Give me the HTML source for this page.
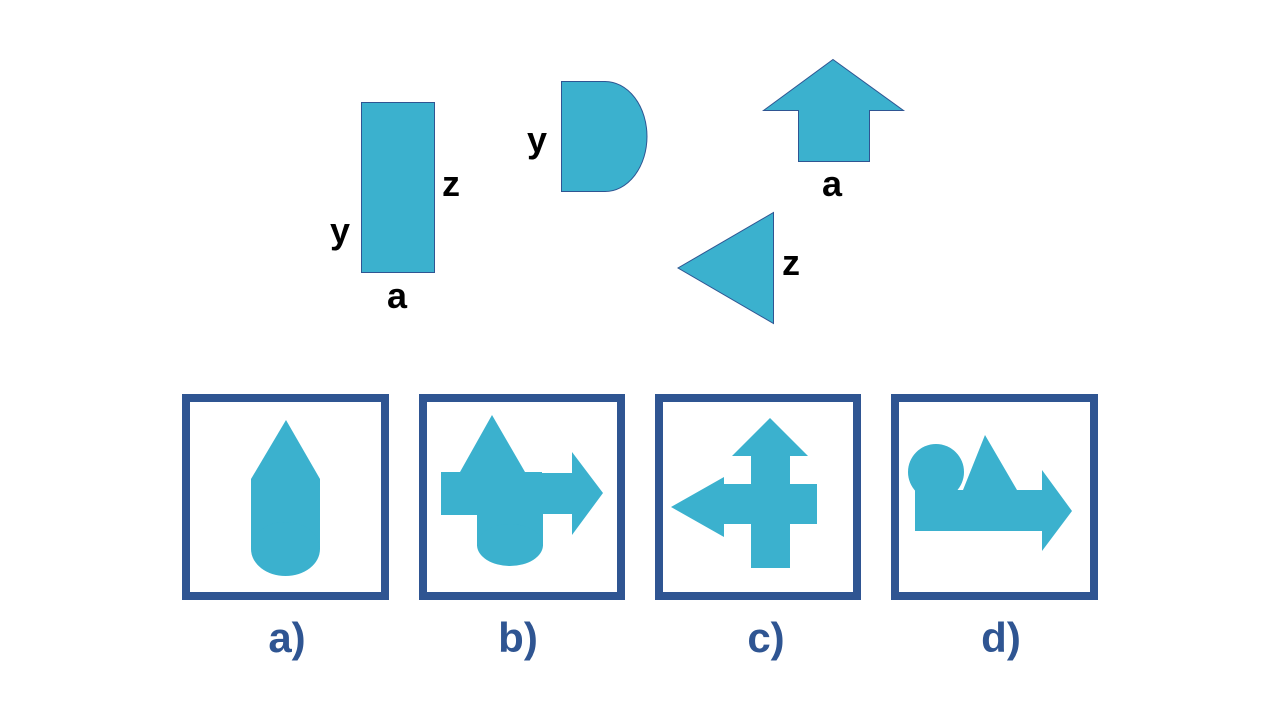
<!DOCTYPE html>
<html><head><style>html,body{margin:0;padding:0;background:#fff}svg{display:block}</style></head>
<body>
<svg width="1280" height="720" viewBox="0 0 1280 720" xmlns="http://www.w3.org/2000/svg">
<g fill="#3BB1CE" stroke="#2F5592" stroke-width="1">
<rect x="361.5" y="102.5" width="73" height="170"/>
<path d="M561.5 81.5 H605 A42 55 0 0 1 605 191.5 H561.5 Z"/>
<path d="M833 59.5 L903.5 110.5 H869.5 V161.5 H798.5 V110.5 H763.5 Z"/>
<path d="M773.5 212.5 V323.5 L678 268 Z"/>
</g>
<g font-family="Liberation Sans, sans-serif" font-weight="bold" font-size="36" fill="#000" text-anchor="middle">
<text x="340" y="243">y</text>
<text x="451" y="196">z</text>
<text x="397" y="308">a</text>
<text x="537" y="152">y</text>
<text x="832" y="196">a</text>
<text x="791" y="275">z</text>
</g>
<g fill="none" stroke="#2F5592" stroke-width="8">
<rect x="186" y="398" width="199" height="198"/>
<rect x="423" y="398" width="198" height="198"/>
<rect x="659" y="398" width="198" height="198"/>
<rect x="895" y="398" width="199" height="198"/>
</g>
<g fill="#3BB1CE">
<path d="M286 420 L320 479 V549 H251 V479 Z"/>
<ellipse cx="285.5" cy="549" rx="34.5" ry="27"/>
<path d="M492 415 L525 472 H542 V473 H572 V452 L603 493 L572 535 V514 H542 V515 H441 V472 H460 Z"/>
<rect x="477" y="505" width="66" height="41"/>
<ellipse cx="510" cy="545" rx="33" ry="21"/>
<path d="M770 418 L808 456 H790 V484 H817 V524 H790 V568 H751 V524 H724 V537 L671 507 L724 477 V484 H751 V456 H732 Z"/>
<circle cx="936" cy="472" r="28"/>
<path d="M985 435 L1017 490 H1042 V470 L1072 511 L1042 551 V531 H915 V490 H963 Z"/>
</g>
<g font-family="Liberation Sans, sans-serif" font-weight="bold" font-size="42" fill="#2F5592" text-anchor="middle">
<text x="287" y="652">a)</text>
<text x="518" y="652">b)</text>
<text x="766" y="652">c)</text>
<text x="1001" y="652">d)</text>
</g>
</svg>
</body></html>
